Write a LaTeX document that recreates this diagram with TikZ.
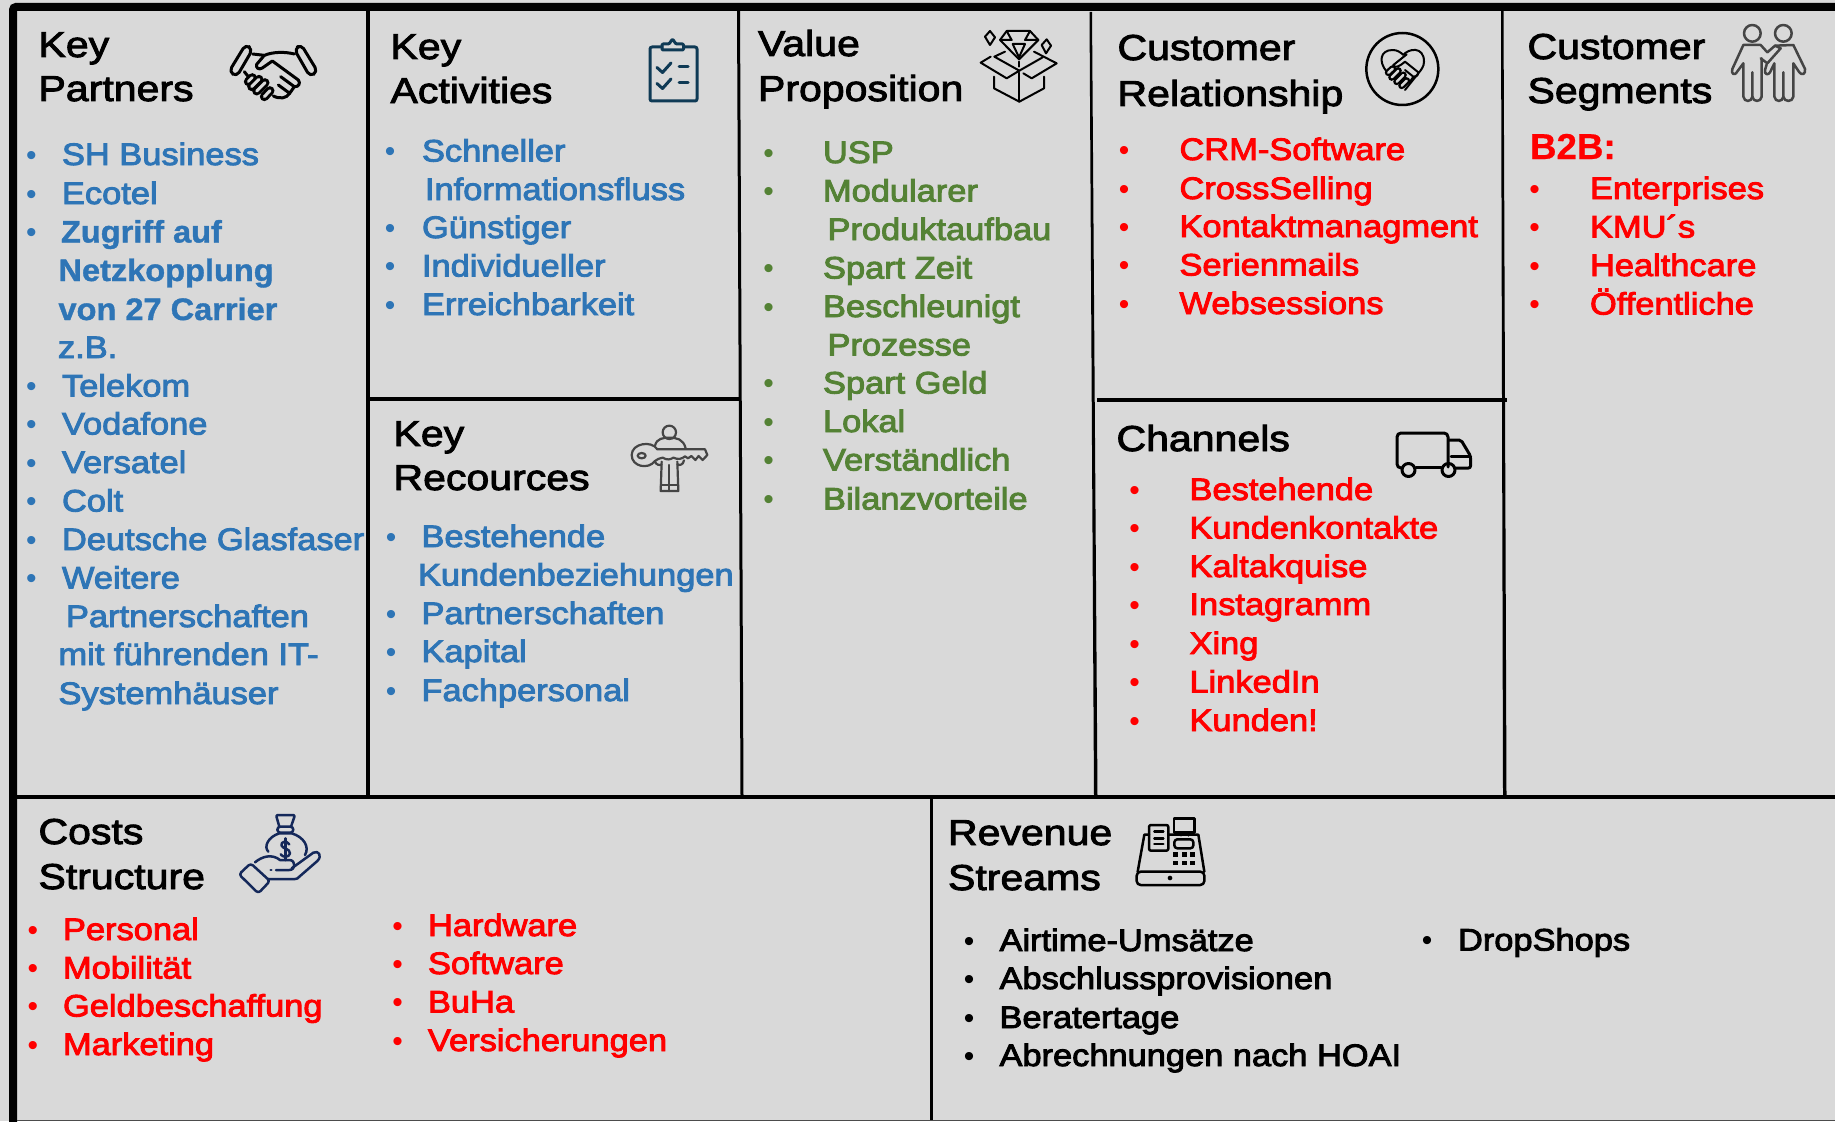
\documentclass[tikz,border=0pt]{standalone}
\usepackage{fontspec}
\setmainfont{Liberation Sans}
\newfontfamily\ttlfont[FakeStretch=1.14,FakeBold=2.5]{Liberation Sans}
\newfontfamily\ttlbold[FakeStretch=1.02,FakeBold=0.5]{Liberation Sans Bold}
\newfontfamily\bodyfont[FakeStretch=1.11,FakeBold=3]{Liberation Sans}
\newfontfamily\boldfont[FakeStretch=1.05,FakeBold=1.2]{Liberation Sans Bold}
\definecolor{panel}{HTML}{D9D9D9}
\definecolor{cblue}{HTML}{2E75B6}
\definecolor{cgreen}{HTML}{548235}
\definecolor{cred}{HTML}{FF0000}
\definecolor{navy}{HTML}{14285A}
\definecolor{clipcol}{HTML}{0F3A55}
\definecolor{icongrey}{HTML}{454545}
\newcounter{nn}
\tikzset{
  lbl/.style={inner sep=0pt,outer sep=0pt,anchor=base west},
  ttl/.style={lbl,text=black,font=\ttlfont\fontsize{36}{40}\selectfont},
  body/.style={lbl,font=\bodyfont\fontsize{31}{36}\selectfont},
  bodyb/.style={lbl,font=\boldfont\fontsize{31}{36}\selectfont},
  bull/.style={inner sep=0pt,outer sep=0pt,anchor=base,font=\fontsize{30}{36}\selectfont},
  icon/.style={line width=2.5pt,line cap=round,line join=round},
  rule/.style={fill=black,draw=none}
}
\newcommand\ttlnode[3]{\stepcounter{nn}\node[ttl] (t\thenn) at (#1,#2) {#3};}
\newcommand\itm[4]{\stepcounter{nn}\node[bull,text=\curcol] (b\thenn) at (#1,#3) {•};\node[body,text=\curcol] (i\thenn) at (#2,#3) {#4};}
\newcommand\cont[3]{\stepcounter{nn}\node[body,text=\curcol] (c\thenn) at (#1,#2) {#3};}
\newcommand\itmb[4]{\stepcounter{nn}\node[bull,text=\curcol] (b\thenn) at (#1,#3) {•};\node[bodyb,text=\curcol] (i\thenn) at (#2,#3) {#4};}
\newcommand\contb[3]{\stepcounter{nn}\node[bodyb,text=\curcol] (c\thenn) at (#1,#2) {#3};}
\newcommand\capsule[4]{\draw[line cap=round,line width=#3pt] #1 -- #2;\draw[panel,line cap=round,line width=#4pt] #1 -- #2;}
\begin{document}
\begin{tikzpicture}[x=1pt,y=-1pt]
\useasboundingbox (0,0) rectangle (1835,1121);
\fill[panel] (0,0) rectangle (1835,1121);
% frame
\draw[line width=8pt,rounded corners=3pt] (13,1125) -- (13,7) -- (1840,7);
\fill[rule] (366,10) rectangle (369.5,797);
\fill[rule] (737,10) -- (740,10) -- (743.5,797) -- (740.5,797) -- cycle;
\fill[rule] (1089.5,12) -- (1092,12) -- (1097.5,797) -- (1094,797) -- cycle;
\fill[rule] (1501,10) -- (1503.5,10) -- (1506.5,797) -- (1503,797) -- cycle;
\fill[rule] (367,397) rectangle (741,401);
\fill[rule] (1097,398) rectangle (1507,402);
\fill[rule] (17,795) rectangle (1835,799);
\fill[rule] (930,797) rectangle (933,1121);
\fill[black!70] (17,1119.5) rectangle (1835,1121);
% titles
\ttlnode{38.5}{57}{Key}
\ttlnode{38.5}{101}{Partners}
\ttlnode{390.5}{59}{Key}
\ttlnode{390.5}{103}{Activities}
\ttlnode{393.5}{446}{Key}
\ttlnode{393.5}{490}{Recources}
\ttlnode{758}{56}{Value}
\ttlnode{758}{101}{Proposition}
\ttlnode{1117.5}{60}{Customer}
\ttlnode{1117.5}{106}{Relationship}
\ttlnode{1527.5}{59}{Customer}
\ttlnode{1527.5}{103}{Segments}
\ttlnode{1116.5}{451}{Channels}
\ttlnode{38.5}{844}{Costs}
\ttlnode{38.5}{889}{Structure}
\ttlnode{948}{845}{Revenue}
\ttlnode{948}{890}{Streams}
% Key partners
\def\curcol{cblue}
\itm{31.5}{62}{165}{SH Business}
\itm{31.5}{62}{204}{Ecotel}
\itmb{31.5}{61}{242.5}{Zugriff auf}
\contb{58.5}{281}{Netzkopplung}
\contb{58.5}{320}{von 27 Carrier}
\cont{58}{358}{z.B.}
\itm{31.5}{62}{396.5}{Telekom}
\itm{31.5}{62}{434.5}{Vodafone}
\itm{31.5}{62}{473}{Versatel}
\itm{31.5}{62}{511.5}{Colt}
\itm{31.5}{62}{550}{Deutsche Glasfaser}
\itm{31.5}{62}{588.5}{Weitere}
\cont{66}{627}{Partnerschaften}
\cont{58.5}{665}{mit führenden IT-}
\cont{58.5}{704}{Systemhäuser}
% Key activities
\itm{390}{422}{161.5}{Schneller}
\cont{425}{200}{Informationsfluss}
\itm{390}{422}{238}{Günstiger}
\itm{390}{422}{276.5}{Individueller}
\itm{390}{422}{315}{Erreichbarkeit}
% Key resources
\itm{391}{421.5}{547}{Bestehende}
\cont{418}{585.5}{Kundenbeziehungen}
\itm{391}{421.5}{624}{Partnerschaften}
\itm{391}{421.5}{662}{Kapital}
\itm{391}{421.5}{701}{Fachpersonal}
% Value proposition
\def\curcol{cgreen}
\itm{768.5}{823}{163}{USP}
\itm{768.5}{823}{201.5}{Modularer}
\cont{827.5}{240}{Produktaufbau}
\itm{768.5}{823}{278.5}{Spart Zeit}
\itm{768.5}{823}{317}{Beschleunigt}
\cont{827.5}{355.5}{Prozesse}
\itm{768.5}{823}{393.5}{Spart Geld}
\itm{768.5}{823}{432}{Lokal}
\itm{768.5}{823}{470.5}{Verständlich}
\itm{768.5}{823}{509.5}{Bilanzvorteile}
% Customer relationship
\def\curcol{cred}
\itm{1124}{1179.5}{160}{CRM-Software}
\itm{1124}{1179.5}{199}{CrossSelling}
\itm{1124}{1179.5}{237}{Kontaktmanagment}
\itm{1124}{1179.5}{275.5}{Serienmails}
\itm{1124}{1179.5}{314}{Websessions}
% Customer segments
\stepcounter{nn}\node[lbl,text=cred,font=\ttlbold\fontsize{36}{40}\selectfont] (b2b) at (1530,159) {B2B:};
\itm{1534.5}{1590}{199}{Enterprises}
\itm{1534.5}{1590}{237.5}{KMU´s}
\itm{1534.5}{1590}{276}{Healthcare}
\itm{1534.5}{1590}{314.5}{Öffentliche}
% Channels
\itm{1134.5}{1189.5}{500}{Bestehende}
\itm{1134.5}{1189.5}{538.5}{Kundenkontakte}
\itm{1134.5}{1189.5}{577}{Kaltakquise}
\itm{1134.5}{1189.5}{615}{Instagramm}
\itm{1134.5}{1189.5}{654}{Xing}
\itm{1134.5}{1189.5}{692.5}{LinkedIn}
\itm{1134.5}{1189.5}{731}{Kunden!}
% Costs
\itm{33}{63}{940}{Personal}
\itm{33}{63}{978.5}{Mobilität}
\itm{33}{63}{1016.5}{Geldbeschaffung}
\itm{33}{63}{1055}{Marketing}
\itm{397.5}{428}{936}{Hardware}
\itm{397.5}{428}{974}{Software}
\itm{397.5}{428}{1012.5}{BuHa}
\itm{397.5}{428}{1051}{Versicherungen}
% Revenue
\def\curcol{black}
\itm{969}{999.5}{951}{Airtime-Umsätze}
\itm{969}{999.5}{989}{Abschlussprovisionen}
\itm{969}{999.5}{1028}{Beratertage}
\itm{969}{999.5}{1066}{Abrechnungen nach HOAI}
\itm{1427}{1458}{950.5}{DropShops}
% handshake icon
\begin{scope}[shift={(215,30)},scale=1/3,icon,line width=3pt]
\draw[rounded corners=5pt] (92,43) -- (113,58) -- (65,140) -- (42,125) -- cycle;
\draw[rounded corners=5pt] (258,43) -- (238,58) -- (285,140) -- (308,125) -- cycle;
\draw (113,72) -- (148,76) .. controls (175,65) and (210,65) .. (238,72);
\draw (148,76) -- (125,103) .. controls (122,115) and (132,120) .. (142,114) -- (172,93) -- (250,150) .. controls (258,160) and (250,172) .. (238,170) -- (197,140);
\draw (238,170) -- (224,190) -- (190,165);
\draw (224,190) .. controls (215,205) and (195,208) .. (175,198);
\draw (88,125) -- (100,140);
\capsule{(100,155)}{(112,143)}{9}{3}
\capsule{(110,170)}{(132,148)}{9}{3}
\capsule{(125,183)}{(150,158)}{9}{3}
\capsule{(148,200)}{(165,182)}{9}{3}
\end{scope}
% clipboard icon
\begin{scope}[line width=3pt,line cap=round,line join=round]
\draw[clipcol,rounded corners=2pt] (662,47) -- (650,47) -- (650,101) -- (697,101) -- (697,47) -- (683.5,47);
\draw[clipcol,rounded corners=1pt] (662,50) -- (662,44) -- (669,44) -- (672.5,39) -- (676,44) -- (683.5,44) -- (683.5,50) -- cycle;
\draw[clipcol] (657,67.5) -- (662.5,72.5) -- (671,63);
\draw[clipcol] (657,83.5) -- (662.5,88.5) -- (671,79);
\draw[clipcol] (679,67) -- (688,67);
\draw[clipcol] (679,83) -- (688,83);
\end{scope}
% gem box icon
\begin{scope}[shift={(960,20)},scale=1/3,icon,line width=2pt]
\draw (140,33) -- (210,33) -- (235,60) -- (177,118) -- (120,60) -- cycle;
\draw (120,60) -- (155,60) -- (140,33);
\draw (235,60) -- (195,60) -- (210,33);
\draw (158,72) -- (195,72) -- (177,112) -- cycle;
\draw (90,33) -- (75,50) -- (90,75) -- (105,52) -- cycle;
\draw (260,58) -- (245,75) -- (258,100) -- (273,77) -- cycle;
\draw (135,95) -- (103,110) -- (178,152) -- (140,175) -- (62,128) -- (92,110);
\draw (222,95) -- (290,130) -- (215,175) -- (190,160);
\draw (178,152) -- (248,112);
\draw (178,125) -- (178,140);
\draw (178,158) -- (178,245);
\draw (102,170) -- (102,205) -- (178,245) -- (252,205) -- (252,170);
\end{scope}
% heart handshake icon
\begin{scope}[shift={(1350,20)},scale=1/3,icon]
\draw (157,147) circle[radius=108];
\begin{scope}[line width=2pt]
\draw (110,155) .. controls (85,125) and (90,90) .. (128,90) .. controls (142,90) and (152,97) .. (160,105) .. controls (175,85) and (222,78) .. (222,125) .. controls (222,140) and (213,150) .. (205,160) -- (165,210);
\draw (170,103) -- (130,135) .. controls (135,145) and (145,142) .. (165,125) -- (205,157) .. controls (205,168) and (195,172) .. (190,170) -- (165,150);
\draw (190,170) -- (178,188) -- (160,170);
\capsule{(115,158)}{(128,146)}{7}{2.5}
\capsule{(125,172)}{(145,152)}{7}{2.5}
\capsule{(140,185)}{(160,165)}{7}{2.5}
\capsule{(155,197)}{(170,182)}{7}{2.5}
\end{scope}
\end{scope}
% people icon
\begin{scope}[shift={(1720,15)},scale=1/3,icon]
\draw[icongrey] (97,55) circle[radius=25];
\draw[icongrey] (190,55) circle[radius=25];
\draw[icongrey] (122,130) -- (142,145) -- (182,100) -- (165,92);
\draw[icongrey] (142,112) -- (122,90) -- (70,90) -- (37,162) .. controls (32,178) and (45,182) .. (50,172) -- (70,145) -- (70,245) .. controls (72,262) and (95,262) .. (97,245) -- (97,172);
\draw[icongrey] (97,245) .. controls (99,262) and (123,262) .. (125,245) -- (125,130);
\draw[icongrey] (142,112) -- (165,92) -- (220,90) -- (255,162) .. controls (258,178) and (245,182) .. (238,172) -- (220,145) -- (220,245) .. controls (218,262) and (192,262) .. (190,245) -- (190,172);
\draw[icongrey] (190,245) .. controls (188,262) and (165,262) .. (163,245) -- (163,145) -- (150,172) .. controls (145,182) and (132,178) .. (135,165) -- (140,148);
\end{scope}
% truck icon
\begin{scope}[line width=3pt,line cap=round,line join=round]
\draw[rounded corners=4pt] (1401,468) -- (1397,468) -- (1397,433) -- (1448,433) -- (1448,467);
\draw (1416,467) -- (1441,467);
\draw[rounded corners=2pt] (1449,440) -- (1461,440) -- (1470.5,456) -- (1470.5,468) -- (1456,468);
\draw (1451,456) -- (1470.5,456);
\draw (1408.5,470) circle[radius=6.5];
\draw (1448.5,470) circle[radius=6.5];
\end{scope}
% key person icon
\begin{scope}[shift={(620,415)},scale=1/3,icon,line width=2.2pt]
\draw[icongrey] (148,52) circle[radius=20];
\draw[icongrey] (105,92) .. controls (110,70) and (130,68) .. (148,68) .. controls (170,68) and (190,72) .. (197,100);
\draw[icongrey] (112,103) -- (255,103) -- (262,120) -- (248,135) -- (236,123) -- (226,135) -- (214,123) -- (204,130) -- (195,124) .. controls (185,132) and (175,135) .. (160,128) .. controls (150,135) and (140,135) .. (128,128) .. controls (120,130) and (110,132) .. (105,138) .. controls (85,165) and (35,155) .. (35,120) .. controls (35,85) and (95,75) .. (112,103) -- cycle;
\draw[icongrey] (65,122) ellipse[x radius=12,y radius=8];
\draw[icongrey] (125,140) -- (122,228) -- (175,228) -- (172,140);
\draw[icongrey] (148,150) -- (148,228);
\draw[icongrey] (122,210) -- (175,210);
\draw[icongrey] (105,140) .. controls (108,150) and (120,152) .. (125,148);
\draw[icongrey] (192,136) .. controls (190,150) and (178,152) .. (172,148);
\end{scope}
% money hand icon
\begin{scope}[shift={(230,805)},scale=1/3,icon]
\draw[navy,rounded corners=3pt] (62,175) -- (120,228) -- (85,265) -- (27,208) -- cycle;
\draw[navy] (75,172) .. controls (95,155) and (125,145) .. (150,165) -- (178,165) .. controls (198,165) and (198,195) .. (178,195) -- (138,195);
\draw[navy] (122,195) -- (124,195);
\draw[navy] (185,190) -- (250,143) .. controls (265,135) and (278,152) .. (262,168) -- (208,215) .. controls (205,220) and (200,222) .. (195,222) -- (115,222);
\draw[navy] (115,140) .. controls (100,125) and (115,95) .. (148,85) -- (185,85) .. controls (220,95) and (240,125) .. (225,150);
\draw[navy,rounded corners=3pt] (142,65) rectangle (190,83);
\draw[navy,rounded corners=2pt] (148,65) -- (138,30) -- (195,30) -- (183,65);
\draw[navy] (178,118) .. controls (170,105) and (150,110) .. (155,122) .. controls (158,132) and (180,130) .. (180,145) .. controls (178,158) and (158,158) .. (152,148);
\draw[navy] (166,100) -- (166,165);
\end{scope}
% cash register icon
\begin{scope}[shift={(1125,810)},scale=1/3,icon]
\draw (147,25) rectangle (208,68);
\draw (168,68) -- (168,76);
\draw (190,68) -- (190,76);
\draw[rounded corners=2pt] (72,45) rectangle (130,122);
\draw (88,65) -- (115,65);
\draw (88,85) -- (115,85);
\draw (88,102) -- (115,102);
\draw (72,74) -- (58,74) -- (38,185);
\draw (130,74) -- (220,74) -- (238,185);
\draw[rounded corners=4pt] (35,185) rectangle (238,225);
\fill (135,204) circle[radius=7];
\draw[rounded corners=3pt] (148,88) rectangle (205,115);
\fill (145,127) rectangle (160,141);
\fill (172,127) rectangle (187,141);
\fill (196,127) rectangle (211,141);
\fill (145,152) rectangle (160,166);
\fill (172,152) rectangle (187,166);
\fill (196,152) rectangle (211,166);
\end{scope}
\end{tikzpicture}
\end{document}
